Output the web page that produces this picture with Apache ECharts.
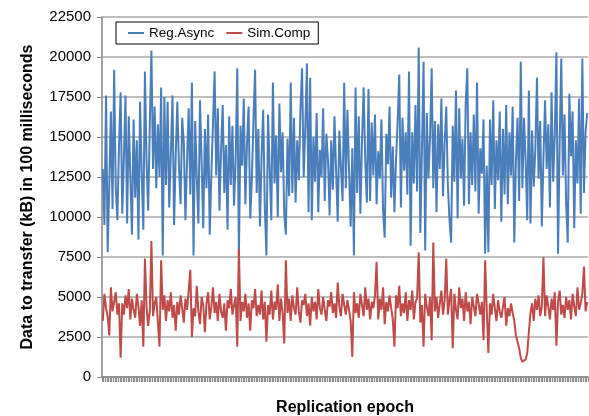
<!DOCTYPE html>
<html>
<head>
<meta charset="utf-8">
<script src="https://cdn.jsdelivr.net/npm/echarts@6/dist/echarts.min.js"></script>
<style>
  html, body { margin: 0; padding: 0; background: #fff; }
  #chart { width: 589px; height: 416px; }
</style>
</head>
<body>
<div id="chart"></div>
<script>
// values, one per replication epoch
var regAsync = [
  13000, 9500, 17600, 7800, 12000, 16600, 10500, 19200, 11800, 9800,
  14500, 17800, 10200, 13600, 17600, 9600, 16300, 12500, 8900, 16100,
  11200, 14800, 8600, 17200, 12800, 9200, 19100, 13500, 10400, 15800,
  20400, 13000, 16900, 11800, 15800, 12500, 18100, 7600, 17500, 12000,
  17200, 10600, 14000, 17600, 9500, 13800, 17200, 13200, 10800, 16200,
  14600, 9800, 13500, 16800, 11400, 18400, 7600, 16000, 12500, 9600,
  17300, 13400, 9300, 15500, 11800, 16400, 8900, 12700, 15800, 19100,
  12600, 16800, 10400, 14200, 17000, 11500, 14500, 9200, 16300, 12000,
  15700, 10700, 13600, 19300, 7500, 15700, 13200, 17400, 10800, 14600,
  16900, 9900, 12300, 16100, 19200, 11500, 15500, 9400, 13800, 16700,
  10600, 7600, 16400, 13000, 9800, 18400, 12100, 15100, 10000, 17100,
  12800, 15300, 10200, 8900, 14900, 11300, 18400, 11500, 16200, 10900,
  14800, 12300, 16700, 19300, 12500, 15600, 19600, 10300, 18700, 9800,
  15000, 12200, 16500, 10300, 14200, 12500, 16800, 11000, 15200, 13600,
  10100, 14800, 11700, 16300, 12900, 9700, 15400, 13100, 11000, 18400,
  11800, 16700, 12900, 9400, 14300, 7600, 18100, 11500, 16300, 10200,
  14700, 18100, 13500, 10900, 18000, 11000, 15900, 12600, 16400, 10800,
  14100, 12400, 16100, 10400, 8700, 15200, 13300, 16900, 11200, 14400,
  10300, 13600, 16000, 18900, 10600, 16200, 12900, 15300, 11400, 19100,
  8200, 15300, 12100, 17000, 11600, 20600, 9000, 14200, 19700, 7900,
  16500, 12400, 15000, 19300, 11800, 16000, 10300, 15800, 13000, 17400,
  11300, 14600, 16900, 12000, 9800, 8400, 15700, 12200, 17900, 9900,
  16800, 12400, 14900, 10700, 17100, 19300, 10800, 15300, 12000, 16400,
  11600, 18400, 10200, 14300, 12700, 16100, 7700, 13200, 7800, 16100,
  12000, 17300, 10500, 14800, 12300, 16600, 9700, 15500, 11400, 17000,
  10800, 15300, 12600, 16900, 8400, 13500, 16200, 11000, 19700, 11800,
  16200, 13500, 9800, 17900, 9600, 15400, 11900, 14200, 18700, 12400,
  16000, 9400, 13700, 17300, 13000, 15800, 10600, 17800, 12200, 15200,
  20300, 7700, 14600, 19900, 12600, 16400, 10900, 8400, 17700, 13800,
  16600, 9300, 14800, 12100, 17400, 10200, 19900, 11500, 15300, 16500
]
var simComp = [
  3500, 5200, 4300, 3800, 2600, 5600, 4100, 4700, 5300, 3900,
  4600, 1200, 4600, 3900, 5100, 4300, 5500, 3600, 4900, 4200,
  3700, 5200, 4400, 3200, 4800, 1900, 7400, 4400, 3200, 4100,
  8500, 3800, 4600, 5000, 3400, 1900, 7300, 4200, 5100, 3500,
  4800, 4100, 5300, 3700, 4500, 2900, 4700, 3900, 5100, 4300,
  3400, 4900, 4200, 5400, 6700, 2500, 4300, 3800, 5700, 4100,
  3300, 5000, 4500, 2800, 4600, 5300, 3600, 4400, 5600, 4000,
  4700, 3500, 5200, 4100, 3700, 4600, 2900, 4800, 4300, 5500,
  3900, 4500, 5000, 1900, 8000, 3500, 4700, 4100, 5200, 3700,
  4600, 2900, 4800, 4300, 5500, 3800, 4500, 3900, 5400, 3600,
  4700, 2200, 4500, 3900, 5400, 3600, 4700, 4200, 5800, 3500,
  4900, 4000, 2100, 7300, 4000, 4900, 3500, 5100, 4300, 3900,
  5600, 4100, 3400, 4800, 4500, 5200, 3800, 4600, 3200, 5000,
  4100, 4700, 3600, 5500, 4300, 3900, 5000, 4200, 3500, 4800,
  4400, 5300, 4000, 4600, 3700, 5900, 4400, 3800, 5200, 4500,
  3900, 4800, 4200, 3500, 1250, 5300, 4000, 4600, 3700, 5200,
  4500, 3800, 5600, 4200, 4900, 3600, 4700, 4300, 5100, 7200,
  3600, 4900, 4200, 5600, 3300, 4700, 4100, 5100, 4300, 3600,
  1900, 5100, 4300, 5700, 3800, 4600, 4000, 5300, 3500, 4800,
  4200, 5400, 3600, 4700, 4900, 7800, 3400, 4500, 1900, 5200,
  4400, 3800, 5000, 2300, 8400, 4100, 5000, 3700, 4600, 5400,
  3900, 4800, 7400, 3900, 4800, 5500, 1800, 5200, 4200, 3600,
  5600, 4300, 4900, 3500, 5300, 4100, 4700, 3300, 5000, 4400,
  3800, 5200, 4600, 3900, 4700, 2300, 7300, 4200, 1500, 4600,
  3900, 5200, 4300, 3500, 4800, 4100, 3700, 4400, 5000, 3200,
  4300, 3800, 4600, 4000, 3500, 2600, 2200, 1800, 1200, 950,
  1000, 1100, 1500, 2800, 4000, 4600, 3500, 4900, 4200, 5100,
  3800, 4400, 7500, 3800, 5100, 4400, 3600, 4900, 4200, 5300,
  1950, 4700, 5400, 3900, 4500, 3700, 5000, 4200, 4800, 3600,
  5200, 4400, 3800, 5600, 4200, 4600, 5200, 6900, 4100, 4700
]
var epochs = regAsync.map(function (v, i) { return i + 1 })

var FONT = 'Liberation Sans'
var chart = echarts.init(document.getElementById('chart'))
chart.setOption({
  animation: false,
  textStyle: { fontFamily: FONT },
  grid: { left: 102, right: 1, top: 17, bottom: 39, containLabel: false, outerBoundsMode: 'none' },
  legend: {
    left: 116,
    top: 22,
    padding: [4, 8, 4, 12],
    itemGap: 12,
    itemWidth: 16,
    itemHeight: 2,
    icon: 'rect',
    borderColor: '#000',
    borderWidth: 1,
    backgroundColor: '#fff',
    textStyle: { fontFamily: FONT, fontSize: 13.5, color: '#000' },
    data: ['Reg.Async', 'Sim.Comp']
  },
  xAxis: {
    type: 'category',
    data: epochs,
    boundaryGap: true,
    name: 'Replication epoch',
    nameLocation: 'middle',
    nameGap: 23,
    nameTextStyle: { fontFamily: FONT, fontSize: 16, fontWeight: 'bold', color: '#000' },
    axisLine: { lineStyle: { color: '#868686', width: 1.5 } },
    axisTick: { show: true, interval: 0, length: 5, lineStyle: { color: '#8e8e8e', width: 1.2 } },
    axisLabel: { show: false },
    splitLine: { show: false }
  },
  yAxis: {
    type: 'value',
    min: 0,
    max: 22500,
    interval: 2500,
    name: 'Data to transfer (kB) in 100 milliseconds',
    nameLocation: 'middle',
    nameGap: 66,
    nameTextStyle: { fontFamily: FONT, fontSize: 16, fontWeight: 'bold', color: '#000' },
    axisLine: { show: true, lineStyle: { color: '#868686', width: 1.5 } },
    axisTick: { show: true, length: 5, lineStyle: { color: '#868686' } },
    axisLabel: {
      fontFamily: FONT, fontSize: 15, color: '#000', margin: 11,
      formatter: function (v) { return String(v) }
    },
    splitLine: { lineStyle: { color: '#a8a8a8', width: 1.5 } }
  },
  series: [
    {
      name: 'Reg.Async',
      type: 'line',
      data: regAsync,
      symbol: 'none',
      color: '#4a7ebb',
      lineStyle: { width: 2, color: '#4a7ebb' }
    },
    {
      name: 'Sim.Comp',
      type: 'line',
      data: simComp,
      symbol: 'none',
      color: '#be4b48',
      lineStyle: { width: 2, color: '#be4b48' }
    }
  ]
})
</script>
</body>
</html>
